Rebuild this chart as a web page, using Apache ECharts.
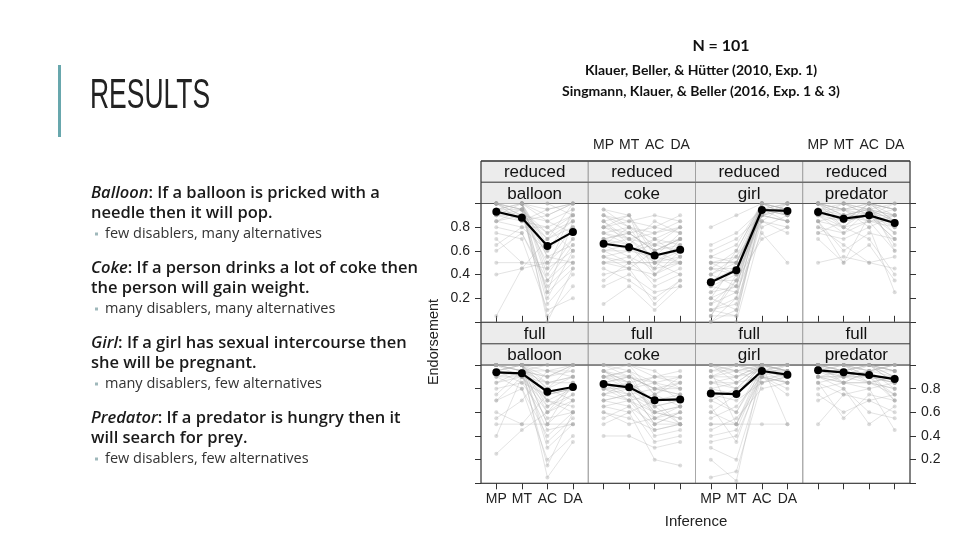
<!DOCTYPE html>
<html>
<head>
<meta charset="utf-8">
<script src="https://cdn.jsdelivr.net/npm/echarts@6.0.0/dist/echarts.min.js"></script>
<style>
html, body { margin: 0; padding: 0; background: #fff; }
#main { width: 960px; height: 540px; }
</style>
</head>
<body>
<div id="main"></div>
<script>
// facets and axis labels
const inferences = ['MP', 'MT', 'AC', 'DA'];
const conditions = ['reduced', 'full'];
const problems = ['balloon', 'coke', 'girl', 'predator'];
const yTicks = [0, 0.2, 0.4, 0.6, 0.8, 1];
const yLabels = [0.2, 0.4, 0.6, 0.8];

// mean endorsement (black line), one row per problem, values MP MT AC DA
const meanReduced = [
  [0.93, 0.88, 0.64, 0.76],
  [0.66, 0.63, 0.56, 0.61],
  [0.335, 0.436, 0.945, 0.937],
  [0.928, 0.872, 0.90, 0.835]
];
const meanFull = [
  [0.938, 0.93, 0.774, 0.814],
  [0.839, 0.811, 0.703, 0.709],
  [0.76, 0.754, 0.949, 0.918],
  [0.955, 0.938, 0.915, 0.881]
];

// individual participants (grey lines)
const reducedBalloon = [
  [1,1,1,1],[1,1,0.9,1],[0.95,0.9,0.5,0.8],[1,1,0.2,0.6],[0.9,0.95,0.75,0.85],
  [1,0.95,0.05,0.3],[0.85,0.8,0.6,0.9],[1,1,0.4,0.7],[0.8,0.75,0.3,0.5],[1,0.9,0.85,0.95],
  [0.7,0.5,0.5,0.5],[0.95,1,0.65,0.75],[0.5,0.5,0.45,0.6],[1,0.95,0.15,0.4],[0.9,0.85,0.95,1],
  [0.4,0.45,0.7,0.8],[1,1,0.55,0.65],[0.6,0.75,0.35,0.55],[0.05,0.45,0.5,0.7],[1,1,1,0.9],
  [0.85,0.9,0.25,0.45],[0.95,0.85,0.8,0.6],[1,0.95,0.7,0.85],[0.75,0.7,0.1,0.2],
  [1,1,0.95,1],[1,1,0.6,0.8],[0.95,1,0.35,0.65],[1,0.9,0.75,0.9],[0.9,1,0.45,0.95],
  [1,1,0.85,0.75],[0.85,0.95,0.25,0.85],[1,0.85,0.9,1],[0.95,0.95,0.55,0.5],[0.65,0.8,0.8,0.9],
  [1,1,0,0.45],[0.9,0.9,0.7,1]
];
const reducedCoke = [
  [0.9,0.85,0.8,0.9],[0.8,0.75,0.6,0.7],[0.5,0.5,0.5,0.5],[0.7,0.65,0.4,0.55],[0.6,0.6,0.7,0.65],
  [0.85,0.9,0.55,0.75],[0.3,0.4,0.25,0.3],[0.75,0.7,0.65,0.8],[0.55,0.5,0.35,0.45],[0.95,0.8,0.75,0.85],
  [0.65,0.7,0.5,0.6],[0.45,0.35,0.2,0.35],[0.8,0.85,0.9,0.85],[0.5,0.55,0.45,0.5],[0.7,0.6,0.55,0.6],
  [0.15,0.3,0.1,0.3],[0.9,0.75,0.6,0.7],[0.6,0.5,0.7,0.55],[0.75,0.8,0.5,0.65],[0.4,0.45,0.6,0.5],
  [0.85,0.65,0.85,0.75],[0.65,0.55,0.3,0.4],[0.55,0.6,0.65,0.7],[0.95,0.9,0.4,0.6],
  [0.8,0.7,0.75,0.8],[0.7,0.75,0.6,0.65],[0.6,0.65,0.5,0.55],[0.9,0.8,0.7,0.8],[0.5,0.45,0.4,0.5],
  [0.75,0.65,0.45,0.7],[0.65,0.8,0.65,0.6],[0.85,0.7,0.55,0.5],[0.35,0.5,0.5,0.4],[0.7,0.75,0.8,0.75],
  [0.55,0.45,0.15,0.35],[0.8,0.9,0.6,0.7]
];
const reducedGirl = [
  [0.5,0.5,1,1],[0.2,0.3,0.95,0.9],[0,0.1,1,1],[0.4,0.5,0.9,0.95],[0.1,0.2,1,0.95],
  [0.5,0.55,0.85,0.8],[0.3,0.4,1,1],[0.05,0.05,0.95,1],[0.6,0.7,0.9,0.85],[0.25,0.45,1,0.9],
  [0.8,0.9,1,1],[0,0,0.8,0.9],[0.35,0.35,0.95,0.95],[0.45,0.6,1,1],[0.15,0.25,0.75,0.5],
  [0.5,0.4,0.9,1],[0.3,0.6,1,0.95],[0.65,0.75,0.95,0.9],[0.1,0.15,0.85,0.75],[0.4,0.3,1,1],
  [0.2,0.5,0.95,0.85],[0.55,0.65,1,0.95],[0.05,0.35,0.7,0.8],[0.45,0.45,1,1],
  [0.1,0.05,0.95,0.95],[0.25,0.3,1,1],[0.5,0.5,0.95,0.9],[0.35,0.45,0.9,0.85],[0,0.2,1,1],
  [0.45,0.4,0.85,1],[0.15,0.35,1,0.95],[0.55,0.5,0.9,0.85],[0.3,0.25,0.95,1],[0.05,0.4,1,0.9],
  [0.4,0.55,1,1],[0.2,0.1,0.9,0.95]
];
const reducedPredator = [
  [1,1,1,1],[0.95,0.9,0.95,0.9],[1,0.95,1,0.85],[0.9,0.85,0.9,0.8],[0.85,0.5,0.9,0.7],
  [1,1,0.95,1],[0.8,0.75,0.85,0.6],[0.95,0.8,1,0.95],[0.5,0.55,0.5,0.45],[1,0.9,0.9,0.75],
  [0.9,0.95,0.8,0.9],[0.75,0.7,0.8,0.25],[1,1,1,0.95],[0.85,0.6,0.75,0.7],[0.95,0.95,0.9,0.85],
  [0.7,0.5,0.65,0.35],[1,0.85,1,0.9],[0.9,0.9,0.85,0.8],[0.8,0.65,0.5,0.55],[1,1,0.95,0.85],
  [0.95,0.85,0.9,1],[0.85,0.8,0.7,0.4],[1,0.95,1,0.95],[0.9,0.75,0.95,0.65],
  [1,0.95,0.95,0.9],[0.95,1,1,0.95],[1,0.9,0.95,0.8],[0.9,0.8,0.85,0.85],[1,1,0.9,0.95],
  [0.85,0.9,0.95,0.75],[1,0.95,0.85,0.9],[0.95,0.85,1,0.6],[0.9,1,0.9,0.9],[1,0.8,0.95,0.85],
  [0.75,0.85,0.9,0.7],[1,1,1,0.85]
];
const fullBalloon = [
  [1,1,1,1],[1,1,0.8,0.9],[0.95,1,0.5,0.7],[1,0.9,0.7,0.8],[0.9,0.95,0.95,1],
  [0.5,0.5,0.5,0.5],[1,1,0.3,0.5],[0.85,0.9,0.85,0.85],[0.25,0.45,0.6,0.7],[1,0.95,0.9,0.95],
  [0.7,0.8,0.4,0.6],[0.95,1,0.05,0.35],[0.6,0.5,0.75,0.8],[1,1,0.65,0.75],[0.8,0.85,0.55,0.6],
  [0.4,0.9,0.45,0.5],[1,0.95,1,1],[0.9,0.8,0.2,0.4],[1,1,0.85,0.9],[0.75,0.95,0.7,0.65],
  [1,1,0.9,1],[0.95,0.9,0.6,0.85],[0.55,0.7,0.95,0.9],[1,1,0.75,0.8],
  [1,1,0.95,0.95],[1,0.95,0.85,0.9],[0.95,1,0.6,0.75],[1,1,0.5,0.85],[0.9,0.9,0.8,0.7],
  [1,1,0.7,0.6],[0.85,0.95,0.9,1],[1,1,0.35,0.55],[0.95,0.85,0.75,0.8],[1,1,0.8,1],
  [0.7,0.9,0.65,0.8],[1,0.95,0.15,0.6]
];
const fullCoke = [
  [1,1,0.9,0.95],[0.9,0.85,0.7,0.75],[0.8,0.8,0.5,0.5],[0.95,0.9,0.8,0.85],[0.7,0.75,0.6,0.55],
  [0.85,0.8,0.65,0.7],[0.4,0.4,0.3,0.35],[1,0.95,0.85,0.8],[0.6,0.55,0.45,0.5],[0.9,0.95,0.75,0.9],
  [0.75,0.7,0.55,0.6],[0.5,0.6,0.2,0.15],[0.95,0.85,0.9,0.85],[0.85,0.9,0.6,0.65],[0.65,0.6,0.7,0.5],
  [1,0.9,0.8,0.75],[0.8,0.75,0.4,0.45],[0.9,0.8,0.85,0.9],[0.55,0.65,0.5,0.6],[0.75,0.85,0.65,0.7],
  [0.95,1,0.95,0.8],[0.7,0.65,0.35,0.4],[0.85,0.7,0.75,0.65],[0.6,0.5,0.55,0.5],
  [0.9,0.9,0.8,0.8],[0.95,0.85,0.7,0.7],[0.8,0.85,0.6,0.55],[1,1,0.75,0.85],[0.75,0.8,0.5,0.6],
  [0.85,0.75,0.8,0.75],[0.7,0.75,0.65,0.5],[0.9,0.95,0.55,0.65],[0.65,0.7,0.45,0.5],[0.95,0.8,0.9,0.9],
  [0.8,0.7,0.6,0.65],[0.85,0.9,0.85,0.7]
];
const fullGirl = [
  [1,1,1,1],[0.9,0.8,1,0.95],[0.5,0.5,0.9,0.85],[1,0.95,1,1],[0.7,0.6,0.95,0.9],
  [0.05,0.1,0.85,0.9],[0.85,0.9,1,1],[0.3,0.2,0.9,0.8],[1,1,0.95,0.95],[0.6,0.75,1,1],
  [0.95,0.5,0.5,0.5],[0.8,0.85,0.9,0.85],[0.4,0.45,0.95,1],[1,0.9,1,0.9],[0.75,0.7,0.85,0.95],
  [0.2,0.02,1,0.95],[0.9,0.95,0.95,1],[0.55,0.65,0.9,0.75],[1,1,1,0.5],[0.65,0.35,0.95,0.9],
  [0.85,0.8,1,1],[0.95,1,0.9,0.9],[0.45,0.55,0.8,0.85],[1,0.85,1,1],
  [1,1,1,0.95],[0.9,0.9,0.95,0.95],[0.8,0.75,1,1],[0.5,0.5,1,0.95],[0.95,0.95,1,1],
  [0.7,0.8,0.9,0.85],[0.6,0.5,0.95,0.9],[1,0.95,0.85,0.9],[0.85,0.85,1,0.95],[0.35,0.4,0.9,1],
  [0.75,0.6,1,1],[0.9,1,0.95,0.85]
];
const fullPredator = [
  [1,1,1,1],[0.95,0.95,0.9,0.85],[1,1,0.95,0.9],[0.9,0.85,0.85,0.8],[0.5,0.75,0.7,0.6],
  [1,0.95,1,0.95],[0.85,0.55,0.75,0.7],[1,1,1,0.95],[0.95,0.9,0.9,0.75],[0.9,0.8,0.5,0.65],
  [1,1,0.95,1],[0.8,0.85,0.8,0.45],[1,0.95,0.9,0.9],[0.95,1,1,0.85],[0.75,0.6,0.7,0.75],
  [1,0.9,0.95,1],[0.9,0.95,0.85,0.8],[1,1,0.9,0.7],[0.85,0.75,0.8,0.85],[0.95,0.9,1,0.95],
  [1,0.85,0.85,0.9],[0.7,0.8,0.6,0.55],[1,1,1,0.9],[0.9,0.9,0.95,1],
  [1,1,0.95,0.95],[0.95,0.95,1,0.9],[1,0.95,0.9,0.85],[0.9,0.9,0.9,0.9],[1,1,1,0.85],
  [0.95,0.85,0.95,0.8],[1,0.95,1,0.95],[0.85,0.9,0.85,0.75],[1,1,0.85,0.9],[0.9,0.85,0.95,0.7],
  [1,1,1,1],[0.95,1,0.9,0.85]
];

// slide texts
const header = [
  'Klauer, Beller, & Hütter (2010, Exp. 1)',
  'Singmann, Klauer, & Beller (2016, Exp. 1 & 3)'
];
const rules = [
  ['Balloon', ': If a balloon is pricked with a', 'needle then it will pop.', 'few disablers, many alternatives'],
  ['Coke', ': If a person drinks a lot of coke then', 'the person will gain weight.', 'many disablers, many alternatives'],
  ['Girl', ': If a girl has sexual intercourse then', 'she will be pregnant.', 'many disablers, few alternatives'],
  ['Predator', ': If a predator is hungry then it', 'will search for prey.', 'few disablers, few alternatives']
];

const individual = [
  [reducedBalloon, reducedCoke, reducedGirl, reducedPredator],
  [fullBalloon, fullCoke, fullGirl, fullPredator]
];
const means = [meanReduced, meanFull];

// lattice layout
const panelLeft = 481, panelW = 107.25, panelH = 118.3, stripH = 21.25;
const rowTop = [203.5, 365];
const axisFont = 'Liberation Sans, Arial, sans-serif';
const slideFont = 'Open Sans, Lato, sans-serif';

let grids = [], xAxes = [], yAxes = [], series = [], graphics = [];

for (let r = 0; r < 2; r++) {
  for (let c = 0; c < 4; c++) {
    const k = r * 4 + c;
    const left = panelLeft + c * panelW;
    grids.push({
      left: left, top: rowTop[r], width: panelW, height: panelH,
      show: true, borderColor: '#a8a8a8', borderWidth: 1
    });
    xAxes.push({
      gridIndex: k, type: 'value', min: 0.4, max: 4.6,
      position: r == 0 ? 'top' : 'bottom',
      offset: r == 0 ? 2 * stripH : 0,
      axisLine: { show: false },
      splitLine: { show: false },
      axisTick: { show: true, customValues: [1, 2, 3, 4], length: 6, lineStyle: { color: '#333' } },
      axisLabel: {
        show: (r == 0) == (c % 2 == 1),
        customValues: [1, 2, 3, 4],
        formatter: v => inferences[Math.round(v) - 1],
        fontSize: 14, color: '#222', fontFamily: axisFont,
        margin: 9
      }
    });
    yAxes.push({
      gridIndex: k, type: 'value', min: 0, max: 1,
      show: c == 0 || c == 3,
      position: c == 0 ? 'left' : 'right',
      axisLine: { show: false },
      splitLine: { show: false },
      axisTick: { show: true, customValues: yTicks, length: 6, lineStyle: { color: '#333' } },
      axisLabel: {
        show: (c == 0 && r == 0) || (c == 3 && r == 1),
        customValues: yLabels,
        formatter: v => v.toFixed(1),
        fontSize: 14, color: '#222', fontFamily: axisFont, margin: 11
      }
    });

    individual[r][c].forEach(vals => {
      series.push({
        type: 'line', xAxisIndex: k, yAxisIndex: k,
        data: vals.map((v, i) => [i + 1, v]),
        symbol: 'circle', symbolSize: 4,
        lineStyle: { color: '#b0b0b0', width: 1, opacity: 0.35 },
        itemStyle: { color: '#a8a8a8', opacity: 0.4 },
        silent: true, animation: false, z: 2
      });
    });
    series.push({
      type: 'line', xAxisIndex: k, yAxisIndex: k,
      data: means[r][c].map((v, i) => [i + 1, v]),
      symbol: 'circle', symbolSize: 8,
      lineStyle: { color: '#000', width: 2.2 },
      itemStyle: { color: '#000' },
      silent: true, animation: false, z: 4
    });

    // strips
    const labels = [conditions[r], problems[c]];
    for (let s = 0; s < 2; s++) {
      const top = rowTop[r] - (2 - s) * stripH;
      graphics.push({
        type: 'rect', shape: { x: left, y: top, width: panelW, height: stripH },
        style: { fill: '#ececec', stroke: '#a0a0a0', lineWidth: 1 }, z: 1
      });
      graphics.push({
        type: 'text', x: left + panelW / 2, y: top + stripH / 2 + 1,
        style: {
          text: labels[s], textAlign: 'center', textVerticalAlign: 'middle',
          font: '17px ' + axisFont, fill: '#111'
        }, z: 3
      });
    }
  }
  // horizontal strip lines
  for (let s = 0; s < 3; s++) {
    const y = rowTop[r] - s * stripH;
    graphics.push({
      type: 'line', shape: { x1: panelLeft, y1: y, x2: panelLeft + 4 * panelW, y2: y },
      style: { stroke: '#555', lineWidth: 1 }, z: 2
    });
  }
}

// outer frame
graphics.push({
  type: 'rect',
  shape: { x: panelLeft, y: rowTop[0] - 2 * stripH, width: 4 * panelW, height: rowTop[1] + panelH - rowTop[0] + 2 * stripH },
  style: { fill: null, stroke: '#333', lineWidth: 1 }, z: 5
});

// axis titles
graphics.push({
  type: 'text', x: 434, y: 342, rotation: Math.PI / 2,
  style: { text: 'Endorsement', textAlign: 'center', textVerticalAlign: 'middle', font: '14.5px ' + axisFont, fill: '#222' }
});
graphics.push({
  type: 'text', x: 696, y: 522,
  style: { text: 'Inference', textAlign: 'center', textVerticalAlign: 'middle', font: '15px ' + axisFont, fill: '#222' }
});

// slide title and accent bar
graphics.push({ type: 'rect', shape: { x: 58, y: 65, width: 3, height: 72 }, style: { fill: '#68a7ad' } });
graphics.push({
  type: 'text', x: 90, y: 117, scaleX: 0.63,
  style: { text: 'RESULTS', textVerticalAlign: 'bottom', font: '42px Liberation Sans, Arial, sans-serif', fill: '#222' }
});

// header
graphics.push({
  type: 'text', x: 721, y: 46,
  style: { text: 'N = 101', textAlign: 'center', textVerticalAlign: 'middle', font: 'bold 16px Lato, sans-serif', fill: '#111' }
});
header.forEach((t, i) => {
  graphics.push({
    type: 'text', x: 701, y: 70 + i * 21,
    style: { text: t, textAlign: 'center', textVerticalAlign: 'middle', font: 'bold 14px Lato, sans-serif', fill: '#111' }
  });
});

// rules on the left
rules.forEach((rl, i) => {
  const y0 = 193 + i * 75;
  graphics.push({
    type: 'text', x: 91, y: y0,
    style: {
      text: '{i|' + rl[0] + '}' + rl[1],
      textVerticalAlign: 'middle',
      font: '600 16.5px ' + slideFont, fill: '#1a1a1a',
      rich: { i: { fontStyle: 'italic', fontWeight: 600, fontSize: 16.5, fontFamily: slideFont, fill: '#1a1a1a' } }
    }
  });
  graphics.push({
    type: 'text', x: 91, y: y0 + 20,
    style: { text: rl[2], textVerticalAlign: 'middle', font: '600 16.5px ' + slideFont, fill: '#1a1a1a' }
  });
  graphics.push({ type: 'rect', shape: { x: 95, y: y0 + 39.5, width: 3, height: 3 }, style: { fill: '#9fb8bb' } });
  graphics.push({
    type: 'text', x: 105, y: y0 + 41,
    style: { text: rl[3], textVerticalAlign: 'middle', font: '14.5px ' + slideFont, fill: '#333' }
  });
});

const chart = echarts.init(document.getElementById('main'));
chart.setOption({
  backgroundColor: '#fff',
  animation: false,
  grid: grids,
  xAxis: xAxes,
  yAxis: yAxes,
  series: series,
  graphic: graphics
});
</script>
</body>
</html>
